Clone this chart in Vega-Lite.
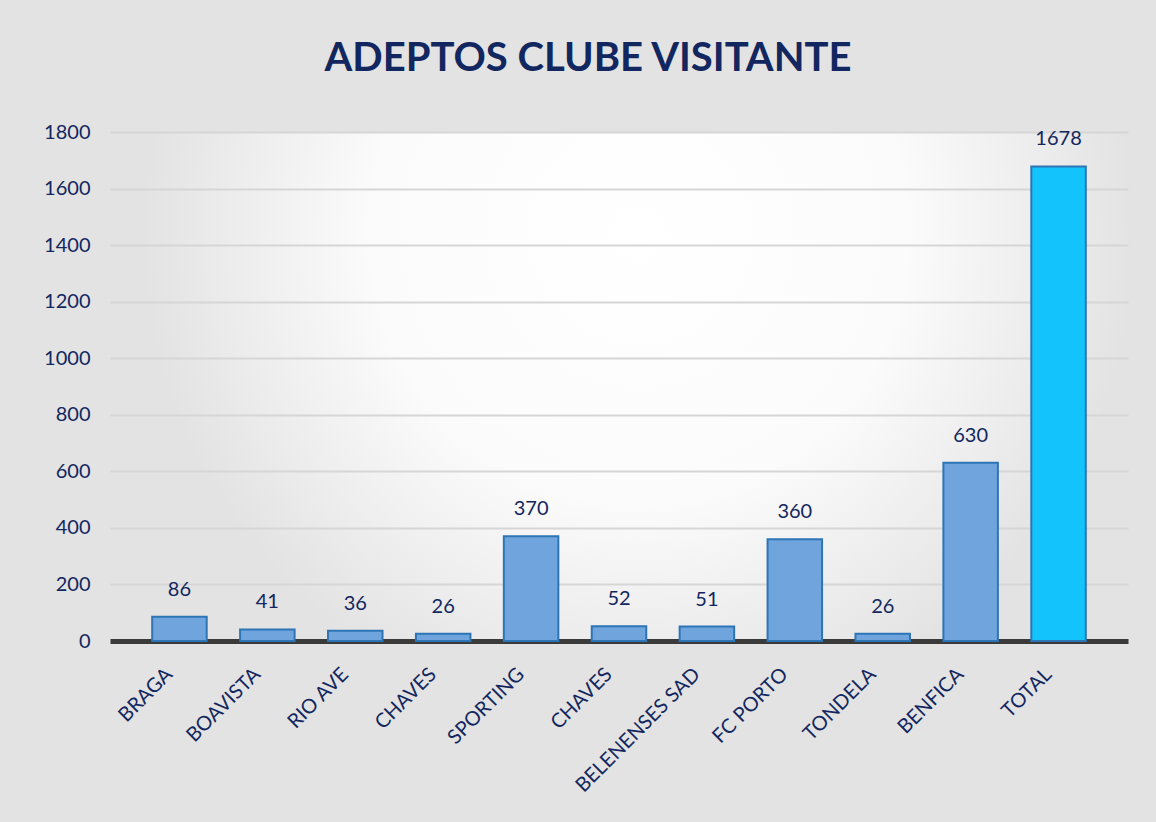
{
  "$schema": "https://vega.github.io/schema/vega-lite/v6.json",
  "autosize": "none",
  "width": 1018,
  "height": 509,
  "padding": {"left": 110, "top": 132, "right": 28, "bottom": 181},
  "background": "#e3e3e3",
  "view": {"stroke": null, "fill": {"gradient": "radial", "x1": 0.52, "y1": 0.35, "r1": 0, "x2": 0.52, "y2": 0.35, "r2": 0.66, "stops": [{"offset": 0, "color": "#ffffff"}, {"offset": 0.4, "color": "#fbfbfb"}, {"offset": 0.74, "color": "#e3e3e3"}, {"offset": 1, "color": "#e3e3e3"}]}},
  "title": {
    "text": "ADEPTOS CLUBE VISITANTE",
    "font": "Lato",
    "fontSize": 40,
    "fontWeight": "bold",
    "color": "#12275f",
    "anchor": "middle",
    "offset": 43,
    "dx": -31
  },
  "data": {
    "values": [
      {"club": "BRAGA", "adeptos": 86, "tipo": "clube"},
      {"club": "BOAVISTA", "adeptos": 41, "tipo": "clube"},
      {"club": "RIO AVE", "adeptos": 36, "tipo": "clube"},
      {"club": "CHAVES", "adeptos": 26, "tipo": "clube"},
      {"club": "SPORTING", "adeptos": 370, "tipo": "clube"},
      {"club": "CHAVES ", "adeptos": 52, "tipo": "clube"},
      {"club": "BELENENSES SAD", "adeptos": 51, "tipo": "clube"},
      {"club": "FC PORTO", "adeptos": 360, "tipo": "clube"},
      {"club": "TONDELA", "adeptos": 26, "tipo": "clube"},
      {"club": "BENFICA", "adeptos": 630, "tipo": "clube"},
      {"club": "TOTAL", "adeptos": 1678, "tipo": "total"}
    ]
  },
  "encoding": {
    "x": {
      "field": "club",
      "type": "nominal",
      "sort": null,
      "title": null,
      "scale": {"paddingInner": 0.38, "paddingOuter": 0.48},
      "axis": {
        "labelAngle": -45,
        "labelAlign": "right",
        "labelBaseline": "middle",
        "labelFont": "Lato",
        "labelFontSize": 20,
        "labelColor": "#12275f",
        "labelPadding": 30,
        "labelOffset": -10,
        "ticks": false,
        "domainColor": "#3a3a3a",
        "domainWidth": 5,
        "labelLimit": 300
      }
    },
    "y": {
      "field": "adeptos",
      "type": "quantitative",
      "title": null,
      "scale": {"domain": [0, 1800]},
      "axis": {
        "values": [0, 200, 400, 600, 800, 1000, 1200, 1400, 1600, 1800],
        "format": "d",
        "labelFont": "Lato",
        "labelFontSize": 20,
        "labelColor": "#12275f",
        "labelPadding": 20,
        "ticks": false,
        "domain": false,
        "gridColor": "#d6d6d6",
        "gridWidth": 2
      }
    }
  },
  "layer": [
    {
      "mark": {"type": "bar", "strokeWidth": 2, "stroke": "#2e75b6"},
      "encoding": {
        "color": {
          "field": "tipo",
          "type": "nominal",
          "legend": null,
          "scale": {"domain": ["clube", "total"], "range": ["#6fa5dc", "#13c3fb"]}
        }
      }
    },
    {
      "mark": {"type": "text", "dy": -27, "font": "Lato", "fontSize": 20, "color": "#12275f", "baseline": "middle"},
      "encoding": {"text": {"field": "adeptos", "type": "quantitative"}}
    }
  ]
}
